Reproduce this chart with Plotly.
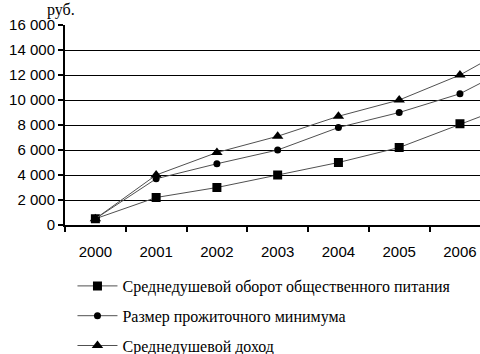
import plotly.graph_objects as go

years = ["2000", "2001", "2002", "2003", "2004", "2005", "2006", "2007"]
turnover = [500, 2200, 3000, 4000, 5000, 6200, 8100, 9900]
subsistence = [500, 3700, 4900, 6000, 7800, 9000, 10500, 13000]
income = [500, 4000, 5800, 7100, 8700, 10000, 12000, 14700]
names = ["Среднедушевой оборот общественного питания",
         "Размер прожиточного минимума",
         "Среднедушевой доход"]
y_ticks = [0, 2000, 4000, 6000, 8000, 10000, 12000, 14000, 16000]
y_labels = ["0", "2 000", "4 000", "6 000", "8 000", "10 000", "12 000", "14 000", "16 000"]

SERIF = "Liberation Serif"
SANS = "Liberation Sans"

series = [
    (names[0], turnover, "square", 9),
    (names[1], subsistence, "circle", 7),
    (names[2], income, "triangle-up", 10),
]

fig = go.Figure()
for i, (nm, vals, sym, sz) in enumerate(series):
    fig.add_trace(go.Scatter(
        x=years, y=vals, name=nm, mode="lines+markers",
        line=dict(color="#505050", width=1),
        marker=dict(symbol=sym, size=sz, color="black", line=dict(width=0)),
        legendgroup=f"g{i}",
    ))

fig.update_layout(
    width=480, height=354,
    margin=dict(l=65, r=0, t=25, b=129, autoexpand=False),
    paper_bgcolor="white", plot_bgcolor="white",
    showlegend=True,
    font=dict(family=SANS, color="black"),
    legend=dict(
        x=0.018, xanchor="left", y=-0.22, yanchor="top",
        font=dict(family=SERIF, size=16, color="black"),
        tracegroupgap=6, traceorder="grouped",
        itemwidth=40,
    ),
    xaxis=dict(
        type="category", range=[-0.5, 6.33],
        tickson="boundaries", ticks="outside", ticklen=5, tickwidth=2, tickcolor="black",
        showline=True, linecolor="black", linewidth=2, showgrid=False,
        tickfont=dict(family=SANS, size=15, color="black"),
        ticklabelstandoff=12,
    ),
    yaxis=dict(
        range=[0, 16000], tickvals=y_ticks, ticktext=y_labels,
        ticks="outside", ticklen=5, tickwidth=2, tickcolor="black",
        showline=True, linecolor="black", linewidth=2,
        showgrid=True, gridcolor="black", gridwidth=1, zeroline=False,
        tickfont=dict(family=SANS, size=15, color="black"),
    ),
    annotations=[dict(
        text="руб.", xref="paper", yref="paper", x=-0.01, y=1.0, xanchor="center", yanchor="middle",
        showarrow=False, font=dict(family=SERIF, size=16, color="black"),
        yshift=15,
    )],
)

fig.write_html("out.html")
